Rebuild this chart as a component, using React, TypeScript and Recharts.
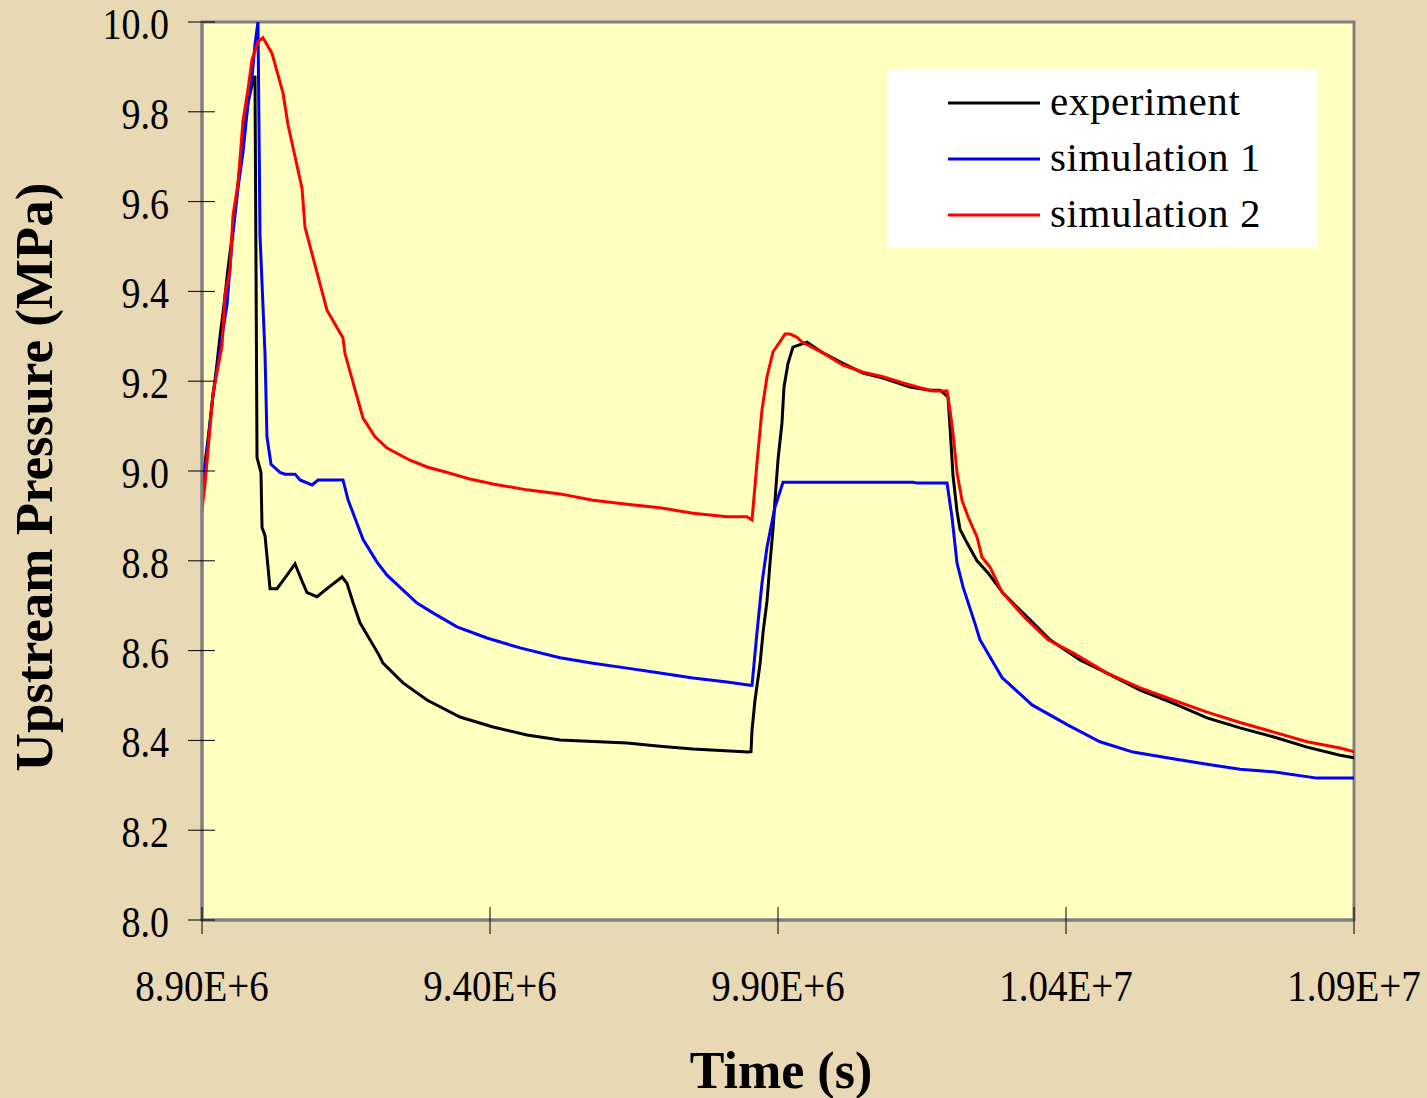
import { LineChart, Line, XAxis, YAxis, CartesianGrid, Legend, Label, ReferenceArea } from 'recharts';

const xTicks = [8.9e6, 9.4e6, 9.9e6, 1.04e7, 1.09e7];
const yTicks = [8.0, 8.2, 8.4, 8.6, 8.8, 9.0, 9.2, 9.4, 9.6, 9.8, 10.0];

// experiment (black)
const expTime = [
  8.8844e6, 8.8896e6, 8.8965e6, 8.9035e6, 8.9104e6, 8.9174e6, 8.9243e6, 8.9313e6, 8.9382e6, 8.9451e6,
  8.9521e6, 8.959e6, 8.966e6, 8.9729e6, 8.9799e6, 8.9868e6, 8.992e6, 8.9955e6, 9.0024e6, 9.0042e6,
  9.0094e6, 9.0146e6, 9.0181e6, 9.0302e6, 9.0476e6, 9.0615e6, 9.0736e6, 9.0823e6, 9.0997e6, 9.117e6,
  9.1431e6, 9.1517e6, 9.1622e6, 9.1743e6, 9.2073e6, 9.2142e6, 9.249e6, 9.2906e6, 9.3479e6, 9.4052e6,
  9.4642e6, 9.5215e6, 9.6378e6, 9.6951e6, 9.7524e6, 9.8479e6, 9.8531e6, 9.8549e6, 9.8601e6, 9.8688e6,
  9.874e6, 9.8809e6, 9.8861e6, 9.8913e6, 9.8948e6, 9.9e6, 9.9069e6, 9.9104e6, 9.9174e6, 9.926e6,
  9.9503e6, 9.9781e6, 1.00128e7, 1.00476e7, 1.00823e7, 1.01292e7, 1.01639e7, 1.01813e7, 1.01951e7, 1.01986e7,
  1.02038e7, 1.02108e7, 1.0216e7, 1.02281e7, 1.02455e7, 1.02646e7, 1.02906e7, 1.03323e7, 1.03722e7, 1.04243e7,
  1.04712e7, 1.05285e7, 1.05858e7, 1.06448e7, 1.07021e7, 1.07594e7, 1.08184e7, 1.08757e7, 1.09226e7,
];
const expPressure = [
  8.78, 8.85, 8.93, 9.0, 9.07, 9.15, 9.22, 9.3, 9.37, 9.45,
  9.52, 9.6, 9.68, 9.75, 9.82, 9.86, 9.88, 9.03, 8.997, 8.874,
  8.856, 8.786, 8.738, 8.738, 8.768, 8.793, 8.755, 8.729, 8.72, 8.738,
  8.764, 8.75, 8.707, 8.662, 8.59, 8.572, 8.528, 8.49, 8.452, 8.43,
  8.412, 8.401, 8.394, 8.387, 8.381, 8.374, 8.375, 8.423, 8.49, 8.57,
  8.64, 8.71, 8.795, 8.87, 8.935, 9.025, 9.107, 9.187, 9.24, 9.276,
  9.287, 9.263, 9.24, 9.218, 9.207, 9.187, 9.18, 9.18, 9.165, 9.098,
  8.99, 8.91, 8.87, 8.84, 8.8, 8.773, 8.728, 8.675, 8.624, 8.579,
  8.55, 8.512, 8.483, 8.45, 8.428, 8.408, 8.385, 8.367, 8.356,
];

// simulation 1 (blue)
const sim1Time = [
  8.8861e6, 8.8965e6, 8.9104e6, 8.9191e6, 8.9347e6, 8.9434e6, 8.9521e6, 8.9625e6, 8.9712e6, 8.9799e6,
  8.9868e6, 8.992e6, 8.9972e6, 9.0007e6, 9.0094e6, 9.0128e6, 9.0198e6, 9.0354e6, 9.0441e6, 9.0615e6,
  9.0701e6, 9.091e6, 9.1014e6, 9.1448e6, 9.1535e6, 9.1795e6, 9.2038e6, 9.2212e6, 9.2733e6, 9.301e6,
  9.3427e6, 9.3948e6, 9.4521e6, 9.5215e6, 9.5788e6, 9.6378e6, 9.6951e6, 9.7524e6, 9.8115e6, 9.8514e6,
  9.8549e6, 9.8635e6, 9.8722e6, 9.8809e6, 9.8948e6, 9.9087e6, 1.01344e7, 1.01413e7, 1.01934e7, 1.02021e7,
  1.02108e7, 1.02212e7, 1.0242e7, 1.02507e7, 1.02681e7, 1.02889e7, 1.0341e7, 1.04035e7, 1.0459e7, 1.05163e7,
  1.05858e7, 1.06448e7, 1.07021e7, 1.07594e7, 1.08358e7, 1.09052e7, 1.09226e7,
];
const sim1Pressure = [
  8.77, 8.9, 9.06, 9.17, 9.3, 9.37, 9.51, 9.63, 9.71, 9.82,
  9.877, 9.95, 10.0, 9.525, 9.26, 9.076, 9.015, 8.997, 8.993, 8.993,
  8.98, 8.969, 8.98, 8.98, 8.936, 8.848, 8.797, 8.768, 8.706, 8.684,
  8.653, 8.628, 8.606, 8.584, 8.572, 8.561, 8.55, 8.539, 8.53, 8.523,
  8.523, 8.64, 8.75, 8.83, 8.92, 8.975, 8.975, 8.973, 8.973, 8.897,
  8.795, 8.742, 8.66, 8.624, 8.586, 8.54, 8.479, 8.434, 8.397, 8.374,
  8.359, 8.347, 8.336, 8.33, 8.316, 8.316, 8.307,
];

// simulation 2 (red)
const sim2Time = [
  8.8861e6, 8.9052e6, 8.9191e6, 8.9347e6, 8.9399e6, 8.9486e6, 8.9538e6, 8.9625e6, 8.9712e6, 8.9799e6,
  8.9868e6, 8.9972e6, 9.0059e6, 9.0215e6, 9.0406e6, 9.0493e6, 9.0736e6, 9.0788e6, 9.117e6, 9.1448e6,
  9.1483e6, 9.1795e6, 9.2003e6, 9.2212e6, 9.2611e6, 9.2906e6, 9.3306e6, 9.3653e6, 9.4052e6, 9.4642e6,
  9.5215e6, 9.5788e6, 9.6378e6, 9.6951e6, 9.7524e6, 9.8115e6, 9.8462e6, 9.8549e6, 9.8635e6, 9.8722e6,
  9.8809e6, 9.8913e6, 9.9122e6, 9.9208e6, 9.933e6, 9.9417e6, 9.9781e6, 1.00128e7, 1.00476e7, 1.00823e7,
  1.0117e7, 1.01413e7, 1.01691e7, 1.01934e7, 1.01986e7, 1.02038e7, 1.02108e7, 1.02194e7, 1.02299e7, 1.02455e7,
  1.02542e7, 1.02681e7, 1.02889e7, 1.03288e7, 1.03688e7, 1.04122e7, 1.04712e7, 1.05285e7, 1.05858e7, 1.06448e7,
  1.07021e7, 1.07594e7, 1.08184e7, 1.08757e7, 1.09226e7,
];
const sim2Pressure = [
  8.768, 8.97, 9.173, 9.279, 9.393, 9.446, 9.569, 9.639, 9.78, 9.85,
  9.916, 9.956, 9.965, 9.93, 9.842, 9.771, 9.63, 9.543, 9.358, 9.296,
  9.261, 9.118, 9.076, 9.051, 9.024, 9.009, 8.995, 8.982, 8.971, 8.958,
  8.949, 8.935, 8.926, 8.918, 8.906, 8.898, 8.898, 8.891, 9.018, 9.136,
  9.21, 9.265, 9.305, 9.305, 9.298, 9.287, 9.263, 9.236, 9.22, 9.21,
  9.196, 9.187, 9.178, 9.178, 9.136, 9.085, 8.996, 8.935, 8.898, 8.853,
  8.808, 8.786, 8.73, 8.673, 8.624, 8.595, 8.55, 8.517, 8.49, 8.463,
  8.44, 8.419, 8.397, 8.383, 8.367,
];

const toRows = (t: number[], p: number[]) => t.map((v, i) => ({ t: v, p: p[i] }));

const serif = '"Liberation Serif", "Times New Roman", serif';
const frame = '#808080';

const XTick = (props: any) => {
  const { x, y, payload } = props;
  return (
    <g>
      <line x1={x} x2={x} y1={y - 13} y2={y + 14} stroke="#000" strokeWidth={1} />
      <text transform={`translate(${x},${y + 81}) scale(1,1.15)`} textAnchor="middle" fontSize={39} fontFamily={serif} fill="#000">
        {Number(payload.value).toExponential(2).toUpperCase()}
      </text>
    </g>
  );
};

const YTick = (props: any) => {
  const { x, y, payload } = props;
  return (
    <g>
      <line x1={x - 14} x2={x + 13} y1={y} y2={y} stroke="#000" strokeWidth={1} />
      <text transform={`translate(${x - 33},${y + 17}) scale(1,1.15)`} textAnchor="end" fontSize={38} fontFamily={serif} fill="#000">
        {Number(payload.value).toFixed(1)}
      </text>
    </g>
  );
};

const XTitle = ({ viewBox }: any) => (
  <text x={viewBox.x + viewBox.width / 2 + 3} y={viewBox.y + 168} textAnchor="middle" fontSize={52} fontWeight="bold" fontFamily={serif} fill="#000">
    Time (s)
  </text>
);

const YTitle = ({ viewBox }: any) => {
  const cx = viewBox.x + 52;
  const cy = viewBox.y + viewBox.height / 2 + 6;
  return (
    <text x={cx} y={cy} transform={`rotate(-90 ${cx} ${cy})`} textAnchor="middle" fontSize={53} fontWeight="bold" fontFamily={serif} fill="#000">
      Upstream Pressure (MPa)
    </text>
  );
};

const LegendBox = ({ payload }: any) => (
  <div style={{ width: 430, height: 178, background: '#ffffff' }}>
    <svg width={430} height={178}>
      {(payload || []).map((e: any, i: number) => (
        <g key={e.value}>
          <line x1={61} x2={153} y1={33 + i * 56} y2={33 + i * 56} stroke={e.color} strokeWidth={3} />
          <text x={163} y={45 + i * 56} fontSize={41} letterSpacing={0.6} fontFamily={serif} fill="#000">{e.value}</text>
        </g>
      ))}
    </svg>
  </div>
);

export default function App() {
  return (
    <div style={{ position: 'absolute', left: 0, top: 0, width: 1427, height: 1098, background: '#E8D8B4' }}>
      <LineChart width={1427} height={1098} margin={{ top: 22, right: 73, bottom: 0, left: 0 }}>
        <CartesianGrid horizontal={false} vertical={false} fill="#FFFFC0" fillOpacity={1} />
        <Legend
          layout="vertical"
          align="center"
          verticalAlign="middle"
          content={<LegendBox />}
          wrapperStyle={{ position: 'absolute', left: 887, top: 70, width: 430, height: 178 }}
        />
        <Line data={toRows(expTime, expPressure)} dataKey="p" name="experiment" stroke="#000000" strokeWidth={3} dot={false} activeDot={false} isAnimationActive={false} />
        <Line data={toRows(sim1Time, sim1Pressure)} dataKey="p" name="simulation 1" stroke="#0000FF" strokeWidth={3} dot={false} activeDot={false} isAnimationActive={false} />
        <Line data={toRows(sim2Time, sim2Pressure)} dataKey="p" name="simulation 2" stroke="#FF0000" strokeWidth={3} dot={false} activeDot={false} isAnimationActive={false} />
        <ReferenceArea x1={8.9e6} x2={1.09e7} y1={8} y2={10} fill="none" stroke={frame} strokeWidth={3} />
        <XAxis
          type="number"
          dataKey="t"
          domain={[8.9e6, 1.09e7]}
          allowDataOverflow
          ticks={xTicks}
          interval={0}
          height={178}
          tickSize={0}
          tickMargin={0}
          tickLine={false}
          tick={XTick}
          axisLine={{ stroke: frame, strokeWidth: 3 }}
          label={<Label content={XTitle} />}
        />
        <YAxis
          type="number"
          domain={[8, 10]}
          allowDataOverflow
          ticks={yTicks}
          interval={0}
          width={202}
          tickSize={0}
          tickMargin={0}
          tickLine={false}
          tick={YTick}
          axisLine={{ stroke: frame, strokeWidth: 3 }}
          label={<Label content={YTitle} />}
        />
      </LineChart>
    </div>
  );
}
